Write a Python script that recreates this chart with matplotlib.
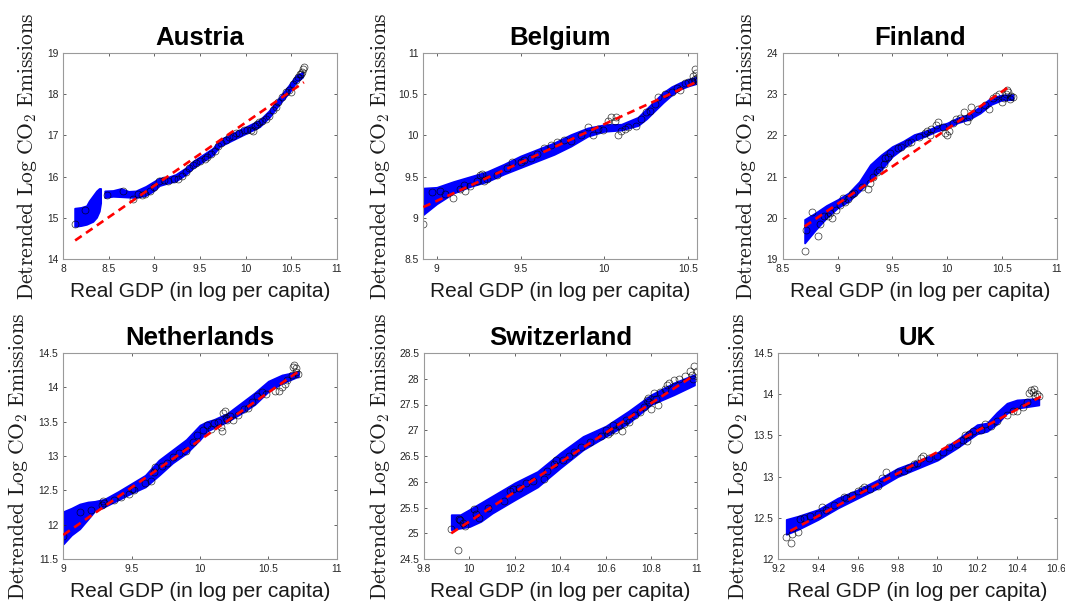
import numpy as np
import matplotlib
matplotlib.use("Agg")
import matplotlib.pyplot as plt
from matplotlib.ticker import FormatStrFormatter, MultipleLocator

plt.rcParams["font.family"] = ["Liberation Sans", "DejaVu Sans"]
plt.rcParams["mathtext.fontset"] = "cm"

# ---------------- Austria ----------------
aut_gdp = [8.13, 8.24, 8.48, 8.65, 8.77, 8.82, 8.86, 8.90, 8.95, 9.00, 9.05, 9.10, 9.15,
           9.22, 9.26, 9.30, 9.35, 9.38, 9.42, 9.46, 9.50, 9.55, 9.58, 9.62, 9.66, 9.70,
           9.73, 9.78, 9.82, 9.86, 9.90, 9.93, 9.98, 10.02, 10.06, 10.08, 10.10, 10.12,
           10.15, 10.18, 10.22, 10.26, 10.30, 10.33, 10.36, 10.40, 10.44, 10.48, 10.50,
           10.52, 10.55, 10.58, 10.60, 10.61, 10.62, 10.63, 10.64]
aut_co2 = [14.85, 15.19, 15.55, 15.66, 15.45, 15.57, 15.56, 15.58, 15.65, 15.75, 15.90, 15.92, 15.90,
           15.94, 15.95, 16.02, 16.10, 16.20, 16.28, 16.32, 16.38, 16.42, 16.48, 16.55, 16.62, 16.75,
           16.82, 16.90, 16.95, 16.98, 17.05, 17.06, 17.12, 17.14, 17.12, 17.10, 17.22, 17.28,
           17.32, 17.35, 17.40, 17.48, 17.62, 17.70, 17.80, 17.92, 18.05, 18.10, 18.05,
           18.25, 18.35, 18.42, 18.48, 18.50, 18.55, 18.62, 18.66]
aut_band_x = [8.13, 8.20, 8.26, 8.29, 8.33, 8.37, 8.40, 8.415, np.nan,
              8.46, 8.55, 8.64, 8.72, 8.80, 8.91, 9.00, 9.06, 9.15, 9.24, 9.35, 9.43, 9.54,
              9.65, 9.72, 9.83, 9.94, 10.05, 10.16, 10.27, 10.38, 10.49, 10.56, 10.63]
aut_band_hi = [15.22, 15.24, 15.28, 15.40, 15.52, 15.64, 15.70, 15.70, np.nan,
               15.64, 15.65, 15.70, 15.63, 15.64, 15.75, 15.87, 15.95, 15.97, 16.04, 16.20, 16.36, 16.52,
               16.68, 16.88, 17.00, 17.12, 17.24, 17.36, 17.60, 17.92, 18.23, 18.44, 18.52]
aut_band_lo = [14.78, 14.80, 14.83, 14.86, 14.90, 15.00, 15.15, 15.35, np.nan,
               15.48, 15.51, 15.50, 15.49, 15.48, 15.53, 15.65, 15.77, 15.83, 15.88, 16.04, 16.20, 16.36,
               16.52, 16.72, 16.84, 16.96, 17.08, 17.20, 17.44, 17.76, 18.05, 18.28, 18.40]
aut_fit_x = [8.13, 10.64]
aut_fit_y = [14.45, 18.29]

# ---------------- Belgium ----------------
bel_gdp = [8.92, 8.97, 9.02, 9.05, 9.10, 9.14, 9.16, 9.17, 9.20, 9.24, 9.26, 9.27, 9.28, 9.30,
           9.36, 9.42, 9.45, 9.50, 9.52, 9.56, 9.60, 9.64, 9.68, 9.72, 9.76, 9.80, 9.86, 9.90,
           9.93, 9.96, 9.99, 10.02, 10.04, 10.06, 10.07, 10.08, 10.10, 10.12, 10.14, 10.19,
           10.22, 10.25, 10.27, 10.30, 10.32, 10.36, 10.40, 10.43, 10.45, 10.48, 10.50, 10.52,
           10.53, 10.54, 10.545, 10.55, 10.555, 10.54]
bel_co2 = [8.93, 9.31, 9.33, 9.29, 9.24, 9.35, 9.40, 9.33, 9.38, 9.45, 9.52, 9.53, 9.45, 9.47,
           9.52, 9.60, 9.68, 9.68, 9.70, 9.72, 9.78, 9.85, 9.88, 9.92, 9.95, 9.93, 10.00, 10.10,
           10.00, 10.08, 10.07, 10.18, 10.22, 10.17, 10.22, 10.00, 10.05, 10.08, 10.10, 10.11,
           10.20, 10.28, 10.30, 10.38, 10.47, 10.50, 10.53, 10.58, 10.55, 10.64, 10.65, 10.66,
           10.72, 10.80, 10.76, 10.70, 10.66, 10.68]
bel_band_x = [8.92, 9.00, 9.10, 9.20, 9.30, 9.40, 9.50, 9.60, 9.70, 9.80, 9.90, 10.00, 10.10,
              10.20, 10.25, 10.30, 10.35, 10.40, 10.45, 10.50, 10.55]
bel_band_hi = [9.36, 9.37, 9.44, 9.50, 9.56, 9.65, 9.75, 9.83, 9.91, 10.01, 10.09, 10.13, 10.135,
               10.22, 10.32, 10.42, 10.52, 10.59, 10.64, 10.68, 10.71]
bel_band_lo = [9.04, 9.17, 9.30, 9.38, 9.44, 9.53, 9.61, 9.69, 9.77, 9.87, 9.99, 10.05, 10.065,
               10.12, 10.20, 10.30, 10.40, 10.49, 10.56, 10.60, 10.63]
bel_fit_x = [8.92, 10.54]
bel_fit_y = [9.13, 10.64]

# ---------------- Finland ----------------
fin_gdp = [8.70, 8.71, 8.77, 8.82, 8.84, 8.88, 8.91, 8.93, 8.95, 8.99, 9.02, 9.05, 9.07, 9.10,
           9.13, 9.15, 9.22, 9.28, 9.30, 9.32, 9.36, 9.38, 9.42, 9.43, 9.46, 9.48, 9.55, 9.58,
           9.64, 9.67, 9.74, 9.80, 9.82, 9.84, 9.85, 9.90, 9.92, 9.96, 9.98, 10.00, 10.02,
           10.05, 10.08, 10.12, 10.15, 10.18, 10.20, 10.22, 10.28, 10.35, 10.38, 10.42, 10.45,
           10.47, 10.50, 10.52, 10.54, 10.55, 10.56, 10.57, 10.58, 10.60]
fin_co2 = [19.19, 19.70, 20.13, 19.57, 19.86, 20.05, 20.05, 20.12, 20.00, 20.20, 20.30, 20.48, 20.38, 20.45,
           20.58, 20.60, 20.75, 20.70, 20.85, 21.00, 21.10, 21.15, 21.30, 21.45, 21.48, 21.58, 21.70, 21.72,
           21.82, 21.85, 21.95, 22.05, 22.10, 22.00, 22.15, 22.25, 22.32, 22.20, 22.05, 22.02, 22.10,
           22.30, 22.40, 22.42, 22.58, 22.35, 22.45, 22.70, 22.65, 22.75, 22.65, 22.90, 22.95,
           23.00, 22.80, 22.90, 23.00, 23.10, 23.05, 22.88, 22.95, 22.92]
fin_band_x = [8.70, 8.80, 8.90, 9.00, 9.10, 9.20, 9.30, 9.40, 9.50, 9.60, 9.70, 9.80, 9.90,
              10.00, 10.10, 10.20, 10.30, 10.40, 10.50, 10.60]
fin_band_hi = [19.96, 20.12, 20.30, 20.44, 20.60, 20.88, 21.29, 21.53, 21.73, 21.86, 22.02, 22.10, 22.22,
               22.30, 22.43, 22.51, 22.70, 22.91, 22.98, 22.99]
fin_band_lo = [19.39, 19.71, 20.00, 20.24, 20.40, 20.64, 20.93, 21.17, 21.49, 21.69, 21.88, 21.98, 22.10,
               22.18, 22.31, 22.39, 22.54, 22.75, 22.86, 22.87]
fin_fit_x = [8.70, 10.57]
fin_fit_y = [19.79, 23.19]

# ---------------- Netherlands ----------------
nld_gdp = [9.00, 9.12, 9.20, 9.28, 9.29, 9.30, 9.37, 9.42, 9.48, 9.50, 9.52, 9.60, 9.64, 9.66,
           9.67, 9.72, 9.76, 9.80, 9.85, 9.90, 9.95, 9.98, 10.02, 10.05, 10.08, 10.10, 10.13,
           10.15, 10.16, 10.17, 10.18, 10.19, 10.20, 10.22, 10.24, 10.28, 10.32, 10.35, 10.38,
           10.42, 10.45, 10.48, 10.55, 10.58, 10.60, 10.62, 10.64, 10.67, 10.68, 10.69, 10.70,
           10.72, 10.70]
nld_co2 = [11.83, 12.18, 12.22, 12.28, 12.35, 12.32, 12.36, 12.41, 12.45, 12.52, 12.50, 12.60, 12.64, 12.76,
           12.84, 12.86, 12.90, 12.98, 13.05, 13.08, 13.20, 13.30, 13.38, 13.45, 13.40, 13.48, 13.50,
           13.42, 13.37, 13.62, 13.66, 13.55, 13.52, 13.58, 13.52, 13.60, 13.68, 13.70, 13.78,
           13.88, 13.93, 13.90, 13.95, 13.95, 14.00, 14.05, 14.10, 14.18, 14.30, 14.33, 14.28,
           14.20, 14.22]
nld_band_x = [9.00, 9.06, 9.12, 9.18, 9.23, 9.30, 9.40, 9.50, 9.60, 9.70, 9.80, 9.90, 10.00,
              10.05, 10.10, 10.20, 10.30, 10.40, 10.50, 10.60, 10.72]
nld_band_hi = [12.19, 12.24, 12.30, 12.33, 12.34, 12.37, 12.48, 12.60, 12.72, 12.94, 13.09, 13.24, 13.45,
               13.50, 13.53, 13.62, 13.77, 13.92, 14.09, 14.18, 14.23]
nld_band_lo = [11.72, 11.85, 11.94, 12.08, 12.20, 12.26, 12.36, 12.46, 12.55, 12.72, 12.90, 13.04, 13.24,
               13.36, 13.41, 13.50, 13.62, 13.75, 13.94, 14.06, 14.16]
nld_fit_x = [9.00, 10.72]
nld_fit_y = [11.85, 14.23]

# ---------------- Switzerland ----------------
che_gdp = [9.92, 9.95, 9.955, 9.96, 9.97, 9.98, 10.02, 10.03, 10.04, 10.08, 10.15, 10.18, 10.19,
           10.22, 10.25, 10.28, 10.33, 10.34, 10.37, 10.38, 10.41, 10.44, 10.46, 10.49, 10.53,
           10.58, 10.60, 10.61, 10.62, 10.63, 10.64, 10.66, 10.67, 10.68, 10.69, 10.70, 10.73,
           10.75, 10.77, 10.78, 10.785, 10.79, 10.80, 10.81, 10.82, 10.83, 10.84, 10.86, 10.87,
           10.88, 10.90, 10.92, 10.95, 10.97, 10.98, 10.99, 11.00, 10.985]
che_co2 = [25.08, 24.68, 25.28, 25.25, 25.20, 25.15, 25.47, 25.38, 25.30, 25.50, 25.62, 25.82, 25.85,
           25.88, 25.98, 26.02, 26.05, 26.20, 26.35, 26.42, 26.42, 26.50, 26.58, 26.68, 26.78,
           26.88, 27.00, 26.92, 26.97, 27.10, 27.00, 27.08, 26.99, 27.12, 27.20, 27.16, 27.30,
           27.35, 27.45, 27.58, 27.62, 27.55, 27.42, 27.72, 27.60, 27.50, 27.75, 27.80, 27.88,
           27.92, 27.97, 28.00, 28.05, 28.15, 28.08, 28.25, 28.15, 28.00]
che_band_x = [9.92, 9.96, 10.00, 10.05, 10.10, 10.20, 10.30, 10.40, 10.50, 10.60, 10.70, 10.80,
              10.90, 10.99]
che_band_hi = [25.36, 25.36, 25.46, 25.59, 25.72, 25.98, 26.20, 26.56, 26.88, 27.08, 27.37, 27.69,
               27.92, 28.08]
che_band_lo = [25.07, 25.10, 25.13, 25.23, 25.39, 25.65, 25.90, 26.27, 26.62, 26.88, 27.14, 27.50,
               27.69, 27.88]
che_fit_x = [9.92, 10.99]
che_fit_y = [25.00, 28.07]

# ---------------- UK ----------------
gbr_gdp = [9.24, 9.265, 9.27, 9.30, 9.31, 9.33, 9.36, 9.40, 9.42, 9.44, 9.48, 9.53, 9.54, 9.57,
           9.60, 9.62, 9.63, 9.66, 9.70, 9.72, 9.74, 9.80, 9.83, 9.85, 9.88, 9.90, 9.92, 9.93,
           9.96, 10.00, 10.03, 10.06, 10.10, 10.13, 10.14, 10.15, 10.16, 10.18, 10.22, 10.24,
           10.27, 10.30, 10.35, 10.38, 10.40, 10.43, 10.45, 10.46, 10.47, 10.48, 10.485, 10.49,
           10.50, 10.51]
gbr_co2 = [12.27, 12.19, 12.30, 12.33, 12.48, 12.50, 12.52, 12.55, 12.63, 12.60, 12.65, 12.75, 12.74, 12.78,
           12.82, 12.85, 12.87, 12.85, 12.89, 12.98, 13.05, 13.05, 13.07, 13.10, 13.15, 13.17, 13.22, 13.25,
           13.22, 13.25, 13.30, 13.36, 13.40, 13.45, 13.50, 13.43, 13.52, 13.55, 13.57, 13.64,
           13.62, 13.68, 13.75, 13.80, 13.80, 13.85, 13.90, 14.02, 14.05, 14.03, 14.06, 13.98,
           14.00, 13.98]
gbr_band_x = [9.24, 9.30, 9.40, 9.50, 9.60, 9.70, 9.80, 9.90, 10.00, 10.10, 10.20, 10.25, 10.30,
              10.35, 10.40, 10.51]
gbr_band_hi = [12.48, 12.52, 12.60, 12.74, 12.84, 12.96, 13.10, 13.19, 13.29, 13.45, 13.63, 13.65, 13.78,
               13.89, 13.93, 13.95]
gbr_band_lo = [12.30, 12.36, 12.48, 12.62, 12.74, 12.86, 13.00, 13.10, 13.20, 13.35, 13.52, 13.55, 13.64,
               13.77, 13.83, 13.87]
gbr_fit_x = [9.26, 10.52]
gbr_fit_y = [12.34, 13.97]

titles = ["Austria", "Belgium", "Finland", "Netherlands", "Switzerland", "UK"]

panels = [
    dict(gdp=aut_gdp, co2=aut_co2, bx=aut_band_x, blo=aut_band_lo, bhi=aut_band_hi,
         fx=aut_fit_x, fy=aut_fit_y, xlim=(8, 11), ylim=(14, 19), xstep=0.5, ystep=1,
         rect=(63.3, 53, 273.4, 206), ylab_x=-0.089),
    dict(gdp=bel_gdp, co2=bel_co2, bx=bel_band_x, blo=bel_band_lo, bhi=bel_band_hi,
         fx=bel_fit_x, fy=bel_fit_y, xlim=(8.92, 10.55), ylim=(8.5, 11), xstep=0.5, ystep=0.5,
         rect=(423.3, 53, 273.4, 206), ylab_x=-0.115),
    dict(gdp=fin_gdp, co2=fin_co2, bx=fin_band_x, blo=fin_band_lo, bhi=fin_band_hi,
         fx=fin_fit_x, fy=fin_fit_y, xlim=(8.5, 11), ylim=(19, 24), xstep=0.5, ystep=1,
         rect=(782.7, 53, 274.0, 206), ylab_x=-0.090),
    dict(gdp=nld_gdp, co2=nld_co2, bx=nld_band_x, blo=nld_band_lo, bhi=nld_band_hi,
         fx=nld_fit_x, fy=nld_fit_y, xlim=(9, 11), ylim=(11.5, 14.5), xstep=0.5, ystep=0.5,
         rect=(63.3, 353, 273.4, 206), ylab_x=-0.122),
    dict(gdp=che_gdp, co2=che_co2, bx=che_band_x, blo=che_band_lo, bhi=che_band_hi,
         fx=che_fit_x, fy=che_fit_y, xlim=(9.8, 11), ylim=(24.5, 28.5), xstep=0.2, ystep=0.5,
         rect=(424.0, 353, 272.7, 206), ylab_x=-0.117),
    dict(gdp=gbr_gdp, co2=gbr_co2, bx=gbr_band_x, blo=gbr_band_lo, bhi=gbr_band_hi,
         fx=gbr_fit_x, fy=gbr_fit_y, xlim=(9.2, 10.6), ylim=(12, 14.5), xstep=0.2, ystep=0.5,
         rect=(778.3, 353, 278.4, 206), ylab_x=-0.102),
]

W, H = 1065, 603
fig = plt.figure(figsize=(W / 100, H / 100), dpi=100)

frame_col = "#262626"
for title, p in zip(titles, panels):
    l, t, w, h = p["rect"]
    ax = fig.add_axes([l / W, (H - t - h) / H, w / W, h / H])

    # confidence band with a thin outline of the same blue for smooth edges
    ax.fill_between(p["bx"], p["blo"], p["bhi"], facecolor="#0000ff", edgecolor="#0000ff",
                    linewidth=1.3, joinstyle="round", zorder=1)
    ax.plot(p["gdp"], p["co2"], linestyle="none", marker="o", markersize=5.0,
            markerfacecolor="none", markeredgecolor="black", markeredgewidth=0.5,
            alpha=0.8, zorder=2)
    ax.plot(p["fx"], p["fy"], color="red", linestyle=(0, (3.0, 2.0)), linewidth=1.9, zorder=3)

    ax.set_xlim(*p["xlim"])
    ax.set_ylim(*p["ylim"])
    ax.xaxis.set_major_locator(MultipleLocator(p["xstep"]))
    ax.yaxis.set_major_locator(MultipleLocator(p["ystep"]))
    ax.xaxis.set_major_formatter(FormatStrFormatter("%g"))
    ax.yaxis.set_major_formatter(FormatStrFormatter("%g"))
    ax.tick_params(direction="in", length=2.5, width=0.5, color=frame_col,
                   labelsize=7.4, labelcolor="#262626", top=True, right=True, pad=3.5)
    for s in ax.spines.values():
        s.set_color("#9a9a9a")
        s.set_linewidth(0.8)

    ax.set_title(title, fontsize=18.5, fontweight="bold", pad=5.8)
    ax.set_xlabel("Real GDP (in log per capita)", fontsize=15, color="#1a1a1a")
    ax.xaxis.set_label_coords(0.5, -0.112)
    ax.set_ylabel(r"$\mathrm{Detrended\ Log\ CO_2\ Emissions}$", fontsize=15.5, color="#1a1a1a")
    ax.yaxis.set_label_coords(p["ylab_x"], 0.5)

fig.savefig("out.png", dpi=100)
